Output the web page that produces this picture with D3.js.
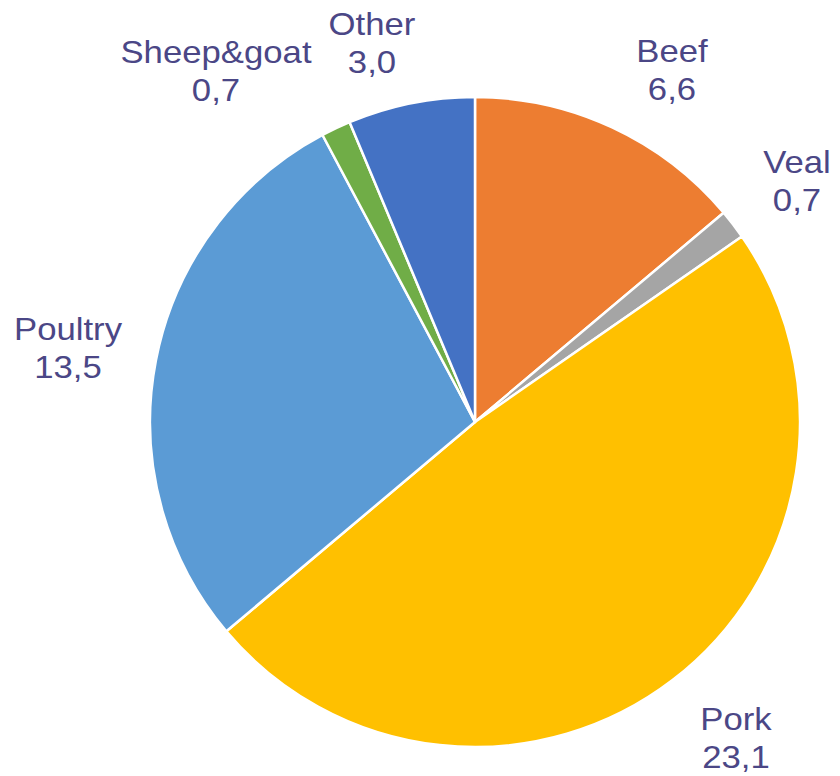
<!DOCTYPE html>
<html><head><meta charset="utf-8">
<script src="https://cdn.jsdelivr.net/npm/d3@7/dist/d3.min.js"></script>
<style>html,body{margin:0;padding:0;background:#fff;}</style>
</head><body>
<svg id="chart" width="840" height="776"></svg>
<script>
const categories = ["Beef", "Veal", "Pork", "Poultry", "Sheep&goat", "Other"];
const values = [6.6, 0.7, 23.1, 13.5, 0.7, 3.0];
const valueLabels = ["6,6", "0,7", "23,1", "13,5", "0,7", "3,0"];
const colors = ["#ED7D31", "#A5A5A5", "#FFC000", "#5B9BD5", "#70AD47", "#4472C4"];

const svg = d3.select("#chart");
const cx = 475, cy = 422, R = 325;
const g = svg.append("g").attr("transform", `translate(${cx},${cy})`);

const data = categories.map((c, i) => ({cat: c, value: values[i], label: valueLabels[i], color: colors[i]}));
const pie = d3.pie().value(d => d.value).sort(null);
const arcs = pie(data);
const arc = d3.arc().innerRadius(0).outerRadius(R);

g.selectAll("path").data(arcs).enter().append("path")
  .attr("d", arc)
  .attr("fill", d => d.data.color)
  .attr("stroke", "#fff")
  .attr("stroke-width", 2.5)
  .attr("stroke-linejoin", "round");

const labelPos = {
  "Beef": [672, 62], "Veal": [797, 173], "Pork": [736, 730],
  "Poultry": [68, 340], "Sheep&goat": [216, 63], "Other": [372, 35]
};

const lbl = svg.append("g").attr("font-family", "'Liberation Sans', Arial, sans-serif")
  .attr("font-size", 31).attr("fill", "#4B4786");
arcs.forEach(a => {
  const p = labelPos[a.data.cat];
  const t = lbl.append("g").attr("transform", `translate(${p[0]},${p[1]}) scale(1.12,1)`);
  t.append("text").attr("text-anchor", "middle").attr("x", 0).attr("y", 0).text(a.data.cat);
  t.append("text").attr("text-anchor", "middle").attr("x", 0).attr("y", 38).text(a.data.label);
});
</script>
</body></html>
